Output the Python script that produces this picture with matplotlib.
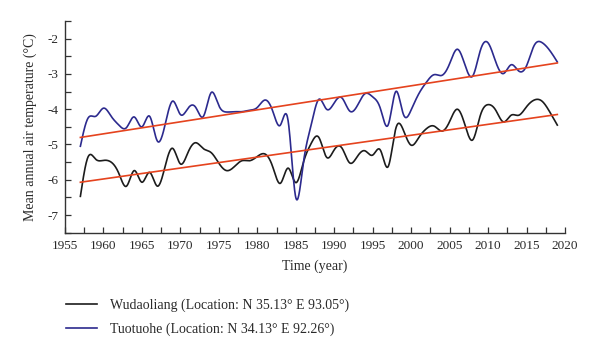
import numpy as np
import matplotlib
matplotlib.use("Agg")
import matplotlib.pyplot as plt
from matplotlib.ticker import MultipleLocator

years = list(range(1957, 2020))

wudaoliang = [
    -6.47, -5.35, -5.42, -5.45, -5.50, -5.82, -6.18, -5.74, -6.07, -5.79,
    -6.18, -5.63, -5.11, -5.55, -5.22, -4.95, -5.12, -5.23, -5.53, -5.74,
    -5.63, -5.46, -5.46, -5.34, -5.27, -5.63, -6.10, -5.67, -6.08, -5.50,
    -4.97, -4.80, -5.36, -5.15, -5.10, -5.52, -5.34, -5.18, -5.30, -5.16,
    -5.63, -4.55, -4.60, -5.02, -4.80, -4.55, -4.48, -4.62, -4.35, -4.00,
    -4.45, -4.87, -4.17, -3.87, -4.03, -4.36, -4.17, -4.17, -3.93, -3.74,
    -3.77, -4.07, -4.45,
]

tuotuohe = [
    -5.05, -4.25, -4.20, -3.97, -4.20, -4.45, -4.52, -4.22, -4.50, -4.20,
    -4.90, -4.45, -3.77, -4.15, -3.97, -3.95, -4.20, -3.53, -3.90, -4.08,
    -4.07, -4.07, -4.03, -3.95, -3.74, -4.05, -4.45, -4.32, -6.50, -5.50,
    -4.45, -3.72, -4.00, -3.82, -3.68, -4.05, -3.90, -3.56, -3.65, -3.98,
    -4.45, -3.50, -4.15, -4.02, -3.56, -3.23, -3.02, -3.04, -2.71, -2.30,
    -2.75, -3.06, -2.33, -2.12, -2.66, -2.99, -2.74, -2.92, -2.77, -2.19,
    -2.11, -2.33, -2.66,
]

trend_years = [1957, 2019]
wudaoliang_trend = [-6.07, -4.15]
tuotuohe_trend = [-4.80, -2.69]

x_ticks = [1955, 1960, 1965, 1970, 1975, 1980, 1985, 1990, 1995, 2000, 2005, 2010, 2015, 2020]
y_ticks = [-7, -6, -5, -4, -3, -2]

labels = ["Wudaoliang (Location: N 35.13° E 93.05°)",
          "Tuotuohe (Location: N 34.13° E 92.26°)"]


def natural_spline(x, y, n=20):
    x = np.asarray(x, float)
    y = np.asarray(y, float)
    m = len(x)
    h = np.diff(x)
    A = np.zeros((m, m))
    b = np.zeros(m)
    A[0, 0] = 1
    A[-1, -1] = 1
    for i in range(1, m - 1):
        A[i, i - 1] = h[i - 1]
        A[i, i] = 2 * (h[i - 1] + h[i])
        A[i, i + 1] = h[i]
        b[i] = 3 * ((y[i + 1] - y[i]) / h[i] - (y[i] - y[i - 1]) / h[i - 1])
    c = np.linalg.solve(A, b)
    xs, ys = [], []
    for i in range(m - 1):
        t = np.linspace(0, h[i], n, endpoint=False)
        bi = (y[i + 1] - y[i]) / h[i] - h[i] * (2 * c[i] + c[i + 1]) / 3
        di = (c[i + 1] - c[i]) / (3 * h[i])
        xs.append(x[i] + t)
        ys.append(y[i] + bi * t + c[i] * t ** 2 + di * t ** 3)
    xs.append([x[-1]])
    ys.append([y[-1]])
    return np.concatenate(xs), np.concatenate(ys)


plt.rcParams['font.family'] = ['Liberation Serif', 'DejaVu Serif']
plt.rcParams['axes.unicode_minus'] = False
text_color = '#2a2a2a'

fig = plt.figure(figsize=(6.0, 3.56), dpi=100)
ax = fig.add_axes([65 / 600, 1 - 232.7 / 356, 500 / 600, (232.7 - 21) / 356])

black = '#1c1c1c'
blue = '#2c2a8e'
red = '#e5431e'

xs, ys = natural_spline(years, wudaoliang)
l1, = ax.plot(xs, ys, color=black, lw=1.2, label=labels[0])
xs, ys = natural_spline(years, tuotuohe)
l2, = ax.plot(xs, ys, color=blue, lw=1.2, label=labels[1])
ax.plot(trend_years, wudaoliang_trend, color=red, lw=1.2)
ax.plot(trend_years, tuotuohe_trend, color=red, lw=1.2)

ax.set_xlim(1955, 2020)
ax.set_ylim(-7.5, -1.5)
ax.set_xticks(x_ticks)
ax.set_yticks(y_ticks)
ax.xaxis.set_minor_locator(MultipleLocator(2.5))
ax.yaxis.set_minor_locator(MultipleLocator(0.5))
ax.tick_params(which='both', direction='in', length=4, width=0.9, color='#333333',
               labelsize=9.5, labelcolor=text_color)
ax.tick_params(axis='x', pad=5)
ax.tick_params(axis='y', pad=5)
for s in ['top', 'right']:
    ax.spines[s].set_visible(False)
for s in ['left', 'bottom']:
    ax.spines[s].set_color('#333333')
    ax.spines[s].set_linewidth(1.0)

ax.set_xlabel("Time (year)", fontsize=10, color=text_color, labelpad=6)
ax.set_ylabel("Mean annual air temperature (°C)", fontsize=10, color=text_color, labelpad=7)

fig.legend(handles=[l1, l2], labels=labels, loc='upper left',
           bbox_to_anchor=(53 / 600, 1 - 286 / 356), frameon=False, fontsize=10,
           handlelength=2.3, handletextpad=0.9, labelspacing=0.75,
           labelcolor=text_color)

fig.savefig("out.png", dpi=100)
